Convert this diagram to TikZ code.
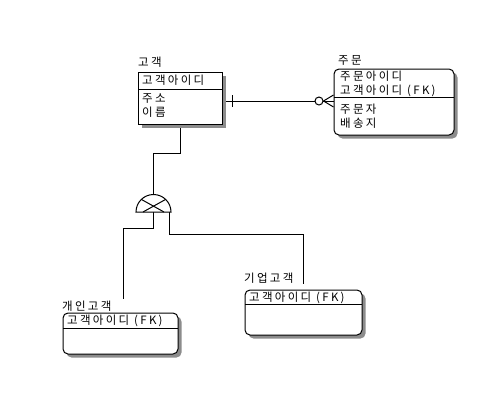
\documentclass[tikz,border=0pt]{standalone}
\usepackage{fontspec}
\newfontfamily\kr[LetterSpace=20]{Noto Sans CJK KR}
\usetikzlibrary{shadows,backgrounds}
\begin{document}
\begin{tikzpicture}[x=1pt,y=-1pt,
  ent/.style={draw,line width=1pt,fill=white,inner sep=0pt,
    drop shadow={shadow xshift=3.5pt,shadow yshift=-3.5pt,fill=black!45,opacity=1}},
  rent/.style={ent,rounded corners=5pt},
  txt/.style={font=\kr\fontsize{11.5}{14}\selectfont,anchor=west,inner sep=0pt,align=left},
  ln/.style={line width=1pt}]
\useasboundingbox (0,0) rectangle (504,410);

% entities
\node[ent,minimum width=84pt,minimum height=52pt] (c1) at (180,98) {};
\node[rent,minimum width=120pt,minimum height=66pt] (c2) at (394,102) {};
\node[rent,minimum width=115pt,minimum height=41pt] (c3) at (120.5,333.5) {};
\node[rent,minimum width=117pt,minimum height=45pt] (c4) at (303.5,312.5) {};

% dividers
\draw[ln] (138,89) -- (222,89);
\draw[ln] (334,97) -- (454,97);
\draw[ln] (63,328) -- (178,328);
\draw[ln] (245,304) -- (362,304);

% texts
\node[txt] (t1) at (138,62) {고객};
\node[txt] (k1) at (142,80) {고객아이디};
\node[txt] (a1) at (142,106) {주소\\이름};
\node[txt] (t2) at (338,60) {주문};
\node[txt] (k2) at (340,83.5) {주문아이디\\고객아이디 (FK)};
\node[txt] (a2) at (340,116.5) {주문자\\배송지};
\node[txt] (t3) at (62,306) {개인고객};
\node[txt] (k3) at (67,321) {고객아이디 (FK)};
\node[txt] (t4) at (244,278) {기업고객};
\node[txt] (k4) at (249,298) {고객아이디 (FK)};

% connectors
\coordinate (ry) at (0,101);
\coordinate (subtop) at (153.5,194.5);
\coordinate (sl) at (153.5,212);
\coordinate (sr) at (169,212);
\coordinate (e3) at (123,299);
\coordinate (e4) at (303,284);
\begin{scope}[on background layer]
  \draw[ln] (c1.east |- ry) -- (c2.west |- ry);
  \draw[ln] (c1.south) -- (180,153) -- (153.5,153) -- (subtop);
  \draw[ln] (sl) -- (153.5,228) -- (123,228) -- (e3);
  \draw[ln] (sr) -- (169,234) -- (303,234) -- (e4);
\end{scope}

% relationship ends
\draw[ln] (232,95) -- (232,107);
\node[draw,circle,line width=1pt,fill=white,minimum size=8pt,inner sep=0pt] (o1) at (319,101) {};
\draw[ln] (o1.east) -- (c2.west |- 0,95);
\draw[ln] (o1.east) -- (c2.west |- 0,107);
\draw[ln] (o1.east) -- (c2.west |- ry);

% subtype symbol
\draw[ln,fill=white] (136,212) arc[start angle=180,end angle=360,radius=17.5] -- cycle;
\draw[ln] (141.5,199.5) -- (164,212);
\draw[ln] (165.5,199.5) -- (143,212);
\end{tikzpicture}
\end{document}
